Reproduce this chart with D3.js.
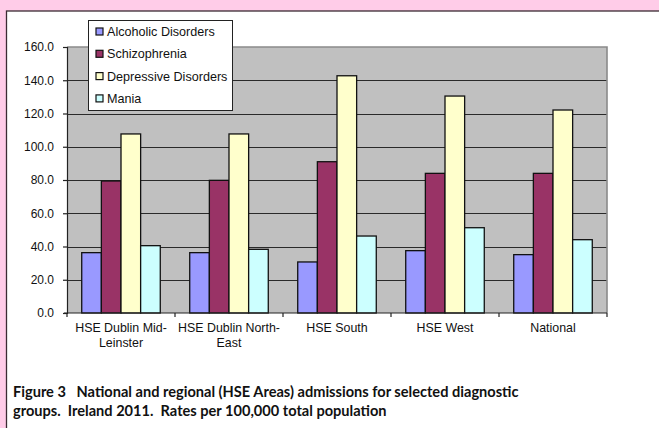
<!DOCTYPE html>
<html>
<head>
<meta charset="utf-8">
<script src="https://cdn.jsdelivr.net/npm/d3@7"></script>
<style>
  html, body { margin: 0; padding: 0; background: #ffcce8; }
  svg { display: block; }
  text { font-family: "Liberation Sans", Arial, sans-serif; }
  text.caption { font-family: Lato, "Open Sans", sans-serif; font-weight: bold; white-space: pre; }
</style>
</head>
<body>
<script>
const categories = [["HSE Dublin Mid-", "Leinster"], ["HSE Dublin North-", "East"], ["HSE South"], ["HSE West"], ["National"]];
const seriesNames = ["Alcoholic Disorders", "Schizophrenia", "Depressive Disorders", "Mania"];
const seriesColors = ["#9999ff", "#993366", "#ffffcc", "#ccffff"];
const alcoholic = [36.3, 36.3, 30.7, 37.5, 35.1];
const schizophrenia = [79.4, 79.8, 91.0, 84.0, 84.0];
const depressive = [107.7, 107.7, 142.7, 130.5, 122.1];
const mania = [40.5, 38.3, 46.3, 51.3, 44.1];
const yTicks = [0, 20, 40, 60, 80, 100, 120, 140, 160];
const captionLines = ["Figure 3   National and regional (HSE Areas) admissions for selected diagnostic",
                      "groups.  Ireland 2011.  Rates per 100,000 total population"];

const seriesValues = [alcoholic, schizophrenia, depressive, mania];
const W = 659, H = 428;
const svg = d3.select("body").append("svg").attr("width", W).attr("height", H);

// pink background + white panel
svg.append("rect").attr("x", 0).attr("y", 0).attr("width", W).attr("height", H).attr("fill", "#ffcce8");
svg.append("rect").attr("x", 6.5).attr("y", 11).attr("width", W + 10).attr("height", H + 10)
  .attr("fill", "#ffffff").attr("stroke", "#3b2b33").attr("stroke-width", 1.3);

const plot = { left: 67, right: 607, top: 47, bottom: 313 };
const x = d3.scaleBand().domain(d3.range(categories.length)).range([plot.left, plot.right]).padding(0);
const bw = x.bandwidth() / 5.5;
const xs = d3.scaleBand().domain(d3.range(seriesNames.length)).range([0.75 * bw, 4.75 * bw]).padding(0);
const y = d3.scaleLinear().domain([0, 160]).range([plot.bottom, plot.top]);

// plot background
svg.append("rect").attr("x", plot.left).attr("y", plot.top)
  .attr("width", plot.right - plot.left).attr("height", plot.bottom - plot.top).attr("fill", "#c0c0c0");

// gridlines
svg.append("g").selectAll("line").data(yTicks.filter(t => t > 0 && t < 160)).join("line")
  .attr("x1", plot.left).attr("x2", plot.right)
  .attr("y1", d => Math.round(y(d)) + 0.5).attr("y2", d => Math.round(y(d)) + 0.5)
  .attr("stroke", "#2a2a2a").attr("stroke-width", 1);

// plot border top & right
svg.append("path")
  .attr("d", `M${plot.left},${plot.top}H${plot.right}V${plot.bottom}`)
  .attr("fill", "none").attr("stroke", "#8a8a8a").attr("stroke-width", 1.6);

// bars
const groups = svg.append("g").selectAll("g").data(categories).join("g")
  .attr("transform", (d, i) => `translate(${x(i)},0)`);
groups.selectAll("rect").data((d, i) => seriesValues.map((s, k) => ({ k, v: s[i] }))).join("rect")
  .attr("x", d => xs(d.k)).attr("width", xs.bandwidth())
  .attr("y", d => y(d.v)).attr("height", d => y(0) - y(d.v))
  .attr("fill", d => seriesColors[d.k]).attr("stroke", "#111").attr("stroke-width", 1.3);

// y axis
const yAxis = d3.axisLeft(y).tickValues(yTicks).tickSize(4).tickPadding(9).tickFormat(d3.format(".1f"));
const gy = svg.append("g").attr("transform", `translate(${plot.left},0)`).call(yAxis);
gy.select(".domain").attr("stroke", "#222").attr("stroke-width", 1.2);
gy.selectAll(".tick line").attr("stroke", "#222").attr("stroke-width", 1.2);
gy.selectAll(".tick text").attr("font-size", 12).attr("fill", "#111");

// x axis (category boundary ticks)
const boundaries = d3.range(categories.length + 1).map(i => plot.left + i * x.bandwidth());
svg.append("line").attr("x1", plot.left - 3).attr("x2", plot.right)
  .attr("y1", plot.bottom).attr("y2", plot.bottom).attr("stroke", "#222").attr("stroke-width", 1.2);
svg.append("g").selectAll("line").data(boundaries).join("line")
  .attr("x1", d => d).attr("x2", d => d).attr("y1", plot.bottom).attr("y2", plot.bottom + 4)
  .attr("stroke", "#222").attr("stroke-width", 1.2);

// x labels
const xl = svg.append("g").selectAll("text").data(categories).join("text")
  .attr("x", (d, i) => x(i) + x.bandwidth() / 2).attr("y", 331.5)
  .attr("text-anchor", "middle").attr("font-size", 12.4).attr("fill", "#111");
xl.selectAll("tspan").data(d => d).join("tspan")
  .attr("x", function () { return this.parentNode.getAttribute("x"); })
  .attr("dy", (d, j) => j === 0 ? 0 : 15).text(d => d);

// legend
const lg = svg.append("g");
lg.append("rect").attr("x", 88.5).attr("y", 20.5).attr("width", 144).attr("height", 90)
  .attr("fill", "#fff").attr("stroke", "#222").attr("stroke-width", 1);
const li = lg.selectAll("g").data(seriesNames).join("g")
  .attr("transform", (d, i) => `translate(0,${36 + i * 22.3})`);
li.append("rect").attr("x", 96).attr("y", -8).attr("width", 7).attr("height", 7)
  .attr("fill", (d, i) => seriesColors[i]).attr("stroke", "#111").attr("stroke-width", 1.2);
li.append("text").attr("x", 107).attr("y", 0).attr("font-size", 12.6).attr("fill", "#111").text(d => d);

// caption
svg.append("g").selectAll("text").data(captionLines).join("text")
  .attr("class", "caption")
  .attr("x", 13).attr("y", (d, i) => 397 + i * 19)
  .attr("font-size", 14.6).attr("fill", "#111").text(d => d);
</script>
</body>
</html>
